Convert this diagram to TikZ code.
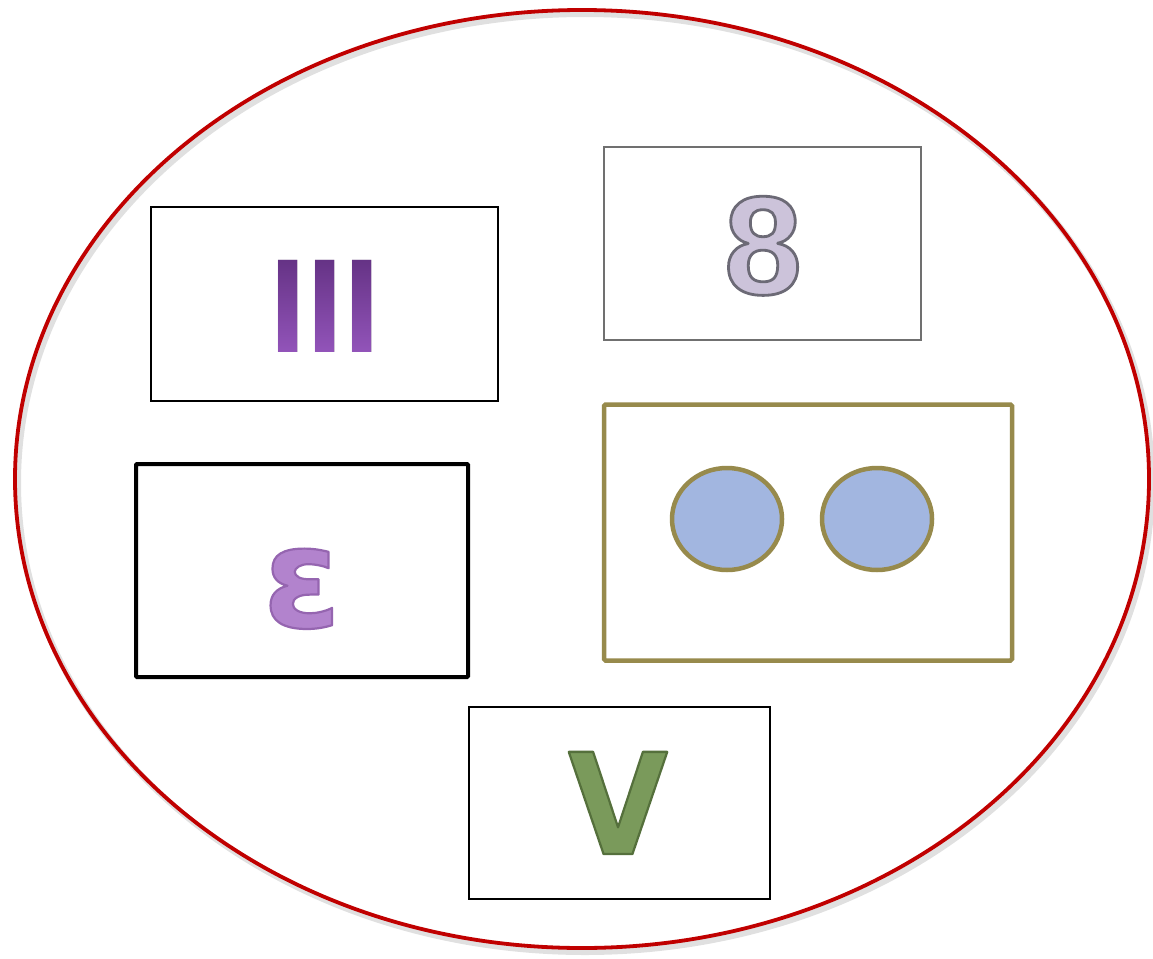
\documentclass[tikz,border=0pt]{standalone}
\usepackage{fontspec}
\setmainfont{Liberation Sans}
\newfontfamily\dejavu{DejaVu Sans}
\usetikzlibrary{shapes.geometric,calc}
\definecolor{ellred}{HTML}{C00000}
\definecolor{boxolive}{HTML}{978A4C}
\definecolor{circblue}{HTML}{A2B6E0}
\definecolor{boxgray}{HTML}{707070}
\definecolor{iiidark}{HTML}{4C2068}
\definecolor{iiilight}{HTML}{9D5CC6}
\definecolor{eightfill}{HTML}{CCC3DA}
\definecolor{epsfill}{HTML}{B283CD}
\definecolor{vfill}{HTML}{7A9A5B}
% vertical gradient of the III (bottom to top)
\pgfdeclareverticalshading{iiishade}{100bp}{color(0bp)=(iiidark); color(6bp)=(iiidark!70!iiilight); color(14bp)=(iiilight); color(100bp)=(iiidark)}
% #1 stroke colour as "r g b", #2 stroke width (bp), #3 fill colour, #4 text:
% text filled and stroked (PDF text render mode 2)
\newcommand{\strokedtext}[4]{{\color{#3}\special{pdf:literal direct #1 RG #2 w 1 j 2 Tr}#4\special{pdf:literal direct 0 Tr}}}
\tikzset{
  thinbox/.style={draw=black, line width=1.4pt, inner sep=0pt},
  thickbox/.style={draw=black, line width=4pt, inner sep=0pt, rounded corners=1pt},
  olivebox/.style={draw=boxolive, line width=4.5pt, inner sep=0pt, rounded corners=1.5pt},
  dot/.style={ellipse, draw=boxolive, line width=4.5pt, fill=circblue, inner sep=0pt,
              minimum width=110pt, minimum height=102pt},
  glyph/.style={anchor=base, inner sep=0pt, font=\bfseries\fontsize{#1}{#1}\selectfont},
  bigdv/.style={anchor=base, inner sep=0pt, font=\dejavu\bfseries\fontsize{140}{140}\selectfont},
}
\begin{document}
\begin{tikzpicture}[x=1pt,y=-1pt]
\useasboundingbox (0,0) rectangle (1153,958);
\fill[white] (0,0) rectangle (1153,958);
% frame ellipse with faint shadow
\draw[black, opacity=0.12, line width=6pt] (585,483) ellipse [x radius=567pt, y radius=469pt];
\node[ellipse, draw=ellred, line width=3.8pt, inner sep=0pt,
      minimum width=1134pt, minimum height=938pt] (frame) at (582,479) {};
% boxes
\node[thinbox, minimum width=347pt, minimum height=194pt] (bIII) at (324.5,304) {};
\node[draw=boxgray, line width=1.4pt, inner sep=0pt, minimum width=317pt, minimum height=193pt] (bEight) at (762.5,243.5) {};
\node[thickbox, minimum width=332pt, minimum height=213pt] (bEps) at (302,570.5) {};
\node[olivebox, minimum width=408pt, minimum height=256pt] (bDots) at (808,532.5) {};
\node[thinbox, minimum width=301pt, minimum height=192pt] (bV) at (619.5,803) {};
% circles
\node[dot] (dotL) at (727,519) {};
\node[dot] (dotR) at (877,519) {};
% III with vertical gradient (lighten blend leaves the white ground white)
\node[glyph=134, text=iiidark] (tIII) at (325,352) {III};
\shade[shading=iiishade, blend mode=lighten] (265,256) rectangle (385,353);
% 8
\node[glyph=140] (t8) at (763,294) {\strokedtext{0.424 0.416 0.463}{2.8}{eightfill}{8}};
% epsilon
\node[bigdv] (tEps) at (302,627)
  {\strokedtext{0.584 0.396 0.690}{2.2}{epsfill}{ε}};
% V
\node[bigdv, xscale=0.92, transform shape] (tV) at (618,854)
  {\strokedtext{0.333 0.439 0.235}{2.4}{vfill}{V}};
\end{tikzpicture}
\end{document}
